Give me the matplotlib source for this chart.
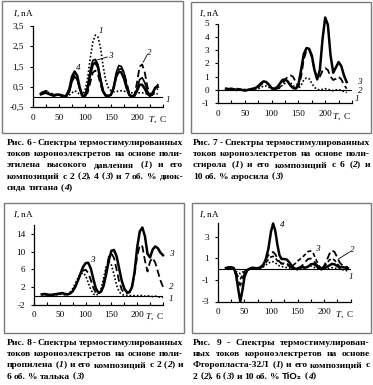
import re
import matplotlib
matplotlib.use('Agg')
import matplotlib.pyplot as plt
from matplotlib.patches import Rectangle

# ---------------- data ----------------
T1 = [15, 20, 25, 30, 35, 40, 45, 50, 55, 60, 65, 70, 75, 80, 85, 90, 95, 100, 105, 110, 115, 120, 125, 130,
      135, 140, 145, 150, 155, 160, 165, 170, 175, 180, 185, 190, 195, 200, 205, 210, 215, 220, 225, 230, 235, 240]
p1_c1 = [0.15, 0.2, 0.25, 0.22, 0.18, 0.12, 0.1, 0.1, 0.08, 0.05, 0.05, 0.1, 0.2, 0.3, 0.25, 0.1, 0.1, 0.3, 0.9, 1.9,
         2.7, 3.05, 2.95, 2.4, 1.5, 0.8, 0.45, 0.3, 0.25, 0.25, 0.3, 0.3, 0.28, 0.25, 0.22, 0.2, 0.18, 0.18, 0.2, 0.2,
         0.18, 0.15, 0.15, 0.15, 0.15, 0.15]
p1_c2 = [0.2, 0.25, 0.3, 0.25, 0.15, 0.1, 0.12, 0.15, 0.1, 0.05, 0.05, 0.3, 0.8, 1.1, 0.9, 0.4, 0.1, 0.05, 0.2, 0.7,
         1.2, 1.3, 1.1, 0.6, 0.2, 0.05, 0.05, 0.1, 0.4, 1.0, 1.35, 1.4, 1.2, 0.7, 0.2, 0.05, 0.1, 0.7, 1.5, 1.6,
         1.2, 0.5, 0.15, 0.1, 0.3, 0.4]
p1_c3 = [0.1, 0.15, 0.2, 0.15, 0.1, 0.1, 0.08, 0.1, 0.05, 0.02, 0.05, 0.25, 0.75, 1.0, 0.85, 0.35, 0.05, 0.1, 0.5, 1.3,
         1.8, 1.85, 1.6, 0.9, 0.3, 0.1, 0.05, 0.1, 0.5, 1.2, 1.55, 1.5, 1.2, 0.6, 0.15, 0.0, 0.05, 0.4, 0.85, 0.95,
         0.7, 0.3, 0.05, 0.1, 0.45, 0.6]
p1_c4 = [0.15, 0.2, 0.2, 0.15, 0.1, 0.05, 0.1, 0.12, 0.05, 0.0, 0.1, 0.4, 1.0, 1.25, 1.05, 0.45, 0.05, 0.05, 0.4, 1.1,
         1.6, 1.7, 1.45, 0.8, 0.25, 0.05, 0.05, 0.1, 0.45, 1.0, 1.25, 1.2, 0.9, 0.45, 0.1, 0.0, 0.05, 0.3, 0.6, 0.6,
         0.4, 0.15, 0.05, 0.2, 0.45, 0.5]

T2 = T1
p2_c1 = [0.05, 0.1, 0.1, 0.05, 0.1, 0.05, 0.0, 0.05, 0.05, 0.0, 0.0, 0.05, 0.1, 0.2, 0.3, 0.3, 0.2, 0.05, 0.0, 0.05,
         0.15, 0.35, 0.5, 0.6, 0.55, 0.35, 0.15, 0.1, 0.35, 0.75, 0.9, 0.85, 0.5, 0.2, 0.05, 0.0, 0.05, 0.1, 0.05, 0.0,
         -0.05, 0.0, 0.05, -0.05, -0.1, -0.2]
p2_c2 = [0.1, 0.1, 0.0, 0.05, 0.1, 0.05, 0.0, 0.05, 0.0, 0.0, 0.05, 0.1, 0.2, 0.4, 0.55, 0.55, 0.4, 0.15, 0.05, 0.1,
         0.2, 0.45, 0.75, 1.0, 1.1, 1.0, 0.6, 0.25, 1.0, 2.3, 2.95, 3.0, 2.5, 1.5, 0.85, 1.0, 1.45, 1.65, 1.5, 1.0,
         0.75, 0.85, 1.0, 0.8, 0.4, 0.1]
p2_c3 = [0.1, 0.05, 0.1, 0.05, 0.0, 0.05, 0.0, -0.05, 0.0, 0.05, 0.1, 0.15, 0.3, 0.5, 0.65, 0.6, 0.4, 0.15, 0.1, 0.2,
         0.45, 0.75, 0.8, 0.65, 0.35, 0.15, 0.1, 0.4, 1.5, 2.7, 3.15, 3.1, 2.6, 1.5, 0.8, 1.5, 3.8, 5.45, 4.9, 2.6,
         1.3, 1.7, 2.1, 1.8, 1.1, 0.6]

T3 = [15, 20, 25, 30, 35, 40, 45, 50, 55, 60, 65, 70, 75, 80, 85, 90, 95, 100, 105, 110, 115, 120, 125, 130,
      135, 140, 145, 150, 155, 160, 165, 170, 175, 180, 185, 190, 195, 200, 205, 210, 215, 220, 225, 230, 235, 240,
      245, 250]
p3_c1 = [0.2, 0.3, 0.2, 0.1, 0.1, 0.2, 0.2, 0.3, 0.4, 0.2, 0.3, 0.8, 1.6, 2.8, 4.0, 4.9, 5.2, 4.6, 3.0, 1.4,
         0.4, 0.1, 0.4, 1.6, 4.0, 6.6, 7.8, 7.0, 4.8, 2.4, 0.9, 0.3, 0.1, 0.0, 0.0, 0.1, 0.0, 0.0, 0.1, 0.0,
         -0.1, 0.0, -0.1, -0.2, -0.1, -0.3, -0.3, -0.4]
p3_c2 = [0.3, 0.3, 0.2, 0.2, 0.3, 0.3, 0.4, 0.5, 0.5, 0.3, 0.3, 0.6, 1.2, 2.2, 3.5, 4.8, 5.7, 5.9, 5.2, 3.6,
         1.8, 0.6, 0.4, 1.0, 3.0, 6.0, 8.8, 9.6, 8.6, 6.0, 3.2, 1.4, 0.6, 0.5, 0.8, 2.0, 5.0, 9.0, 11.5, 11.2,
         8.0, 5.5, 7.8, 8.6, 7.5, 5.5, 3.5, 2.0]
p3_c3 = [0.3, 0.4, 0.3, 0.2, 0.2, 0.3, 0.4, 0.5, 0.6, 0.4, 0.3, 0.5, 1.0, 2.0, 3.4, 5.0, 6.5, 7.4, 7.5, 6.2,
         3.8, 1.6, 0.7, 0.9, 2.3, 5.0, 8.0, 10.2, 10.4, 9.0, 6.2, 3.4, 1.6, 0.8, 0.8, 2.0, 5.5, 11.0, 14.6, 15.5,
         13.5, 9.5, 8.7, 10.5, 11.2, 10.8, 9.8, 9.2]

T4 = [15, 20, 25, 30, 34, 38, 42, 46, 50, 55, 60, 65, 70, 75, 80, 85, 90, 95, 100, 104, 108, 112, 116, 120, 125,
      130, 135, 140, 145, 150, 155, 160, 165, 170, 175, 180, 185, 190, 195, 200, 205, 210, 215, 220, 225, 230, 235,
      240, 245]
p4_c1 = [0.05, 0.1, 0.05, 0.0, -0.2, -0.35, -0.4, -0.3, -0.1, 0.0, 0.0, 0.05, 0.0, 0.05, 0.1, 0.2, 0.4, 0.55, 0.7,
         0.7, 0.6, 0.45, 0.3, 0.25, 0.2, 0.15, 0.1, 0.05, 0.0, -0.05, 0.0, 0.05, 0.1, 0.2, 0.3, 0.2, 0.1, 0.0, -0.05,
         0.0, 0.05, 0.1, 0.15, 0.1, 0.05, 0.0, -0.05, -0.1, -0.15]
p4_c2 = [0.15, 0.2, 0.15, 0.0, -0.5, -1.1, -1.5, -1.0, -0.4, -0.05, 0.05, 0.05, 0.1, 0.1, 0.2, 0.45, 0.9, 1.3, 1.55,
         1.6, 1.4, 1.0, 0.7, 0.55, 0.5, 0.4, 0.25, 0.1, 0.05, 0.1, 0.2, 0.4, 0.7, 0.95, 1.0, 0.85, 0.5, 0.2, 0.05,
         0.3, 0.8, 1.4, 1.75, 1.6, 1.1, 0.6, 0.35, 0.25, 0.2]
p4_c3 = [0.1, 0.15, 0.1, 0.05, -0.3, -0.7, -0.9, -0.6, -0.2, 0.0, 0.05, 0.1, 0.05, 0.1, 0.15, 0.3, 0.6, 0.9, 1.15,
         1.2, 1.05, 0.8, 0.6, 0.5, 0.55, 0.5, 0.35, 0.3, 0.5, 0.75, 0.95, 1.15, 1.4, 1.65, 1.7, 1.45, 0.9, 0.35, 0.1,
         0.2, 0.5, 0.85, 1.0, 0.85, 0.5, 0.25, 0.2, 0.15, 0.1]
p4_c4 = [0.1, 0.15, 0.2, 0.1, -0.5, -1.8, -3.0, -2.0, -0.7, -0.1, 0.05, 0.15, 0.1, 0.1, 0.15, 0.35, 0.9, 1.9, 3.5,
         4.25, 3.6, 2.3, 1.3, 0.95, 0.95, 0.9, 0.6, 0.25, 0.05, 0.05, 0.15, 0.2, 0.15, 0.25, 0.45, 0.5, 0.35, 0.1,
         0.05, 0.1, 0.2, 0.35, 0.5, 0.45, 0.3, 0.15, 0.2, 0.15, 0.1]

x_ticks = [0, 25, 50, 75, 100, 125, 150, 175, 200, 225, 250]
x_labels = ['0', '', '50', '', '100', '', '150', '', '200', '', '']

p1_yticks = [-0.5, 0.5, 1.5, 2.5, 3.5]
p1_ylabels = ['-0,5', '0,5', '1,5', '2,5', '3,5']
p2_yticks = [-1, 0, 1, 2, 3, 4, 5]
p2_ylabels = ['-1', '0', '1', '2', '3', '4', '5']
p3_yticks = [-2, 2, 6, 10, 14]
p3_ylabels = ['-2', '2', '6', '10', '14']
p4_yticks = [-3, -1, 1, 3]
p4_ylabels = ['-3', '-1', '1', '3']

cap6 = ["Рис. 6 - Спектры термостимулированных",
        "токов короноэлектретов на основе поли-",
        "этилена высокого давления ({1}) и его",
        "композиций с 2 ({2}), 4 ({3}) и 7 об. % диок-",
        "сида титана ({4})"]
cap7 = ["Рис. 7 - Спектры термостимулированных",
        "токов короноэлектретов на основе поли-",
        "стирола ({1}) и его композиций с 6 ({2}) и",
        "10 об. % аэросила ({3})"]
cap8 = ["Рис. 8 - Спектры термостимулированных",
        "токов короноэлектретов на основе поли-",
        "пропилена ({1}) и его композиций с 2 ({2}) и",
        "6 об. % талька ({3})"]
cap9 = ["Рис. 9 - Спектры термостимулирован-",
        "ных токов короноэлектретов на основе",
        "Фторопласта-32Л ({1}) и его композиций с",
        "2 ({2}), 6 ({3}) и 10 об. % <TiO₂> ({4})"]

# ---------------- figure ----------------
plt.rcParams['font.family'] = ['Liberation Serif', 'DejaVu Serif']
plt.rcParams['mathtext.fontset'] = 'custom'
plt.rcParams['mathtext.it'] = 'Liberation Serif:italic'
plt.rcParams['mathtext.rm'] = 'Liberation Serif'

W, H = 373, 385
fig = plt.figure(figsize=(W / 100, H / 100), dpi=100)
fig.patch.set_facecolor('white')


def fx(x):
    return x / W


def fy(y):
    return 1 - y / H


FS = 6.6
DOT = dict(color='black', lw=1.2, ls=(0, (1, 1.2)))
DASH = dict(color='black', lw=1.3, ls=(0, (4, 2)))
DASH2 = dict(color='black', lw=1.2, ls=(0, (2.5, 1.5)))
SOLID = dict(color='black', lw=1.2)
THICK = dict(color='black', lw=1.8)


def frame(l, t, r, b):
    fig.patches.append(Rectangle((fx(l), fy(b)), (r - l) / W, (b - t) / H, transform=fig.transFigure,
                                 fill=False, ec='#7a7a7a', lw=1.0))


def make_ax(l, r, t, b, ylim, yt, yl):
    ax = fig.add_axes([fx(l), fy(b), (r - l) / W, (b - t) / H])
    ax.set_xlim(0, 250)
    ax.set_ylim(*ylim)
    ax.patch.set_alpha(0)
    for s in ('top', 'right'):
        ax.spines[s].set_visible(False)
    for s in ('left', 'bottom'):
        ax.spines[s].set_linewidth(0.9)
    ax.set_xticks(x_ticks)
    ax.set_xticklabels(x_labels)
    ax.set_yticks(yt)
    ax.set_yticklabels(yl)
    ax.tick_params(axis='x', direction='in', length=2.5, width=0.8, pad=5, labelsize=FS)
    ax.tick_params(axis='y', direction='out', length=2.5, width=0.8, pad=4, labelsize=FS)
    ax.axhline(0, color='black', lw=0.8, zorder=1)
    return ax


def lab(ax, x, y, s, ha='left'):
    ax.text(x, y, s, fontsize=FS, style='italic', ha=ha, va='center', clip_on=False)


# panel frames
frame(2, 1, 183, 133)
frame(191, 2, 371, 133)
frame(4, 203, 184, 333)
frame(192, 203, 371, 333)

# Panel 1
ax1 = make_ax(33, 163, 26, 107, (-0.5, 3.5), p1_yticks, p1_ylabels)
ax1.plot(T1, p1_c1, clip_on=False, **DOT)
ax1.plot(T1, p1_c2, clip_on=False, **DASH)
ax1.plot(T1, p1_c3, clip_on=False, **SOLID)
ax1.plot(T1, p1_c4, clip_on=False, **THICK)
lab(ax1, 126, 3.25, '1')
lab(ax1, 144, 2.0, '3')
ax1.plot([143, 124], [1.97, 1.83], color='black', lw=0.6)
lab(ax1, 82, 1.42, '4')
lab(ax1, 219, 2.15, '2')
ax1.plot([219, 212], [2.05, 1.72], color='black', lw=0.6)
lab(ax1, 256, -0.15, '1')

# Panel 2
ax2 = make_ax(218, 352, 23.5, 103.3, (-1, 5), p2_yticks, p2_ylabels)
ax2.plot(T2, p2_c1, clip_on=False, **DOT)
ax2.plot(T2, p2_c2, clip_on=False, **DASH)
ax2.plot(T2, p2_c3, clip_on=False, **THICK)
lab(ax2, 259, 0.6, '3')
lab(ax2, 261, -0.05, '2')
lab(ax2, 255, -0.65, '1')

# Panel 3
ax3 = make_ax(34, 163, 225.3, 304.5, (-2, 16), p3_yticks, p3_ylabels)
ax3.plot(T3, p3_c1, clip_on=False, **DOT)
ax3.plot(T3, p3_c2, clip_on=False, **DASH)
ax3.plot(T3, p3_c3, clip_on=False, **THICK)
lab(ax3, 109, 8.2, '3')
lab(ax3, 261, 9.5, '3')
lab(ax3, 261, 2.0, '2')
lab(ax3, 261, -0.7, '1')

# Panel 4
ax4 = make_ax(218, 350.5, 223, 301.5, (-3, 4.3), p4_yticks, p4_ylabels)
ax4.plot(T4, p4_c1, clip_on=False, **DOT)
ax4.plot(T4, p4_c2, clip_on=False, **DASH)
ax4.plot(T4, p4_c3, clip_on=False, **DASH2)
ax4.plot(T4, p4_c4, clip_on=False, **THICK)
lab(ax4, 117, 4.1, '4')
lab(ax4, 183, 1.9, '3')
lab(ax4, 249, 1.8, '2')
ax4.plot([248, 227], [1.6, 0.95], color='black', lw=0.6, clip_on=False)
lab(ax4, 246, -0.75, '1')

# axis titles
for (x, y) in [(13, 16), (199, 16), (13, 217), (199, 217)]:
    fig.text(fx(x), fy(y), '$I$, nA', fontsize=FS, va='baseline', ha='left')
for (x, y) in [(158, 120), (342, 117), (155, 317), (345, 315)]:
    fig.text(fx(x), fy(y), '$T$,  C', fontsize=FS, va='center', ha='center')

# ---------------- captions (justified) ----------------
renderer = fig.canvas.get_renderer()
CS = 6.8


def style_kw(st):
    if st == 'i':
        return dict(family='Liberation Serif', weight='bold', style='italic', fontsize=CS)
    if st == 's':
        return dict(family=['Liberation Sans', 'DejaVu Sans'], weight='bold', fontsize=CS)
    return dict(family='Liberation Serif', weight='bold', style='normal', fontsize=CS)


def measure(s, st):
    t = fig.text(0, 0, s, **style_kw(st))
    w = t.get_window_extent(renderer).width
    t.remove()
    return w


def parse(word):
    out = []
    for m in re.finditer(r'\{([^}]*)\}|<([^>]*)>|([^{<]+)', word):
        if m.group(1) is not None:
            out.append((m.group(1), 'i'))
        elif m.group(2) is not None:
            out.append((m.group(2), 's'))
        else:
            out.append((m.group(3), 'n'))
    return out


SP = measure('a a', 'n') - measure('aa', 'n')


def caption(lines, x0, x1, y0, dy):
    for i, line in enumerate(lines):
        words = [parse(w) for w in line.split()]
        widths = [[measure(s, st) for s, st in w] for w in words]
        tot = sum(sum(ws) for ws in widths)
        last = i == len(lines) - 1
        gap = SP if (last or len(words) < 2) else (x1 - x0 - tot) / (len(words) - 1)
        x = x0
        yb = y0 + i * dy
        for w, ws in zip(words, widths):
            for (s, st), wd in zip(w, ws):
                fig.text(fx(x), fy(yb), s, va='baseline', ha='left', **style_kw(st))
                x += wd
            x += gap


caption(cap6, 7, 183, 145, 11.2)
caption(cap7, 193, 370, 145, 11.2)
caption(cap8, 7, 183, 345, 11.2)
caption(cap9, 193, 370, 345, 11.2)

fig.savefig('out.png', dpi=100)
